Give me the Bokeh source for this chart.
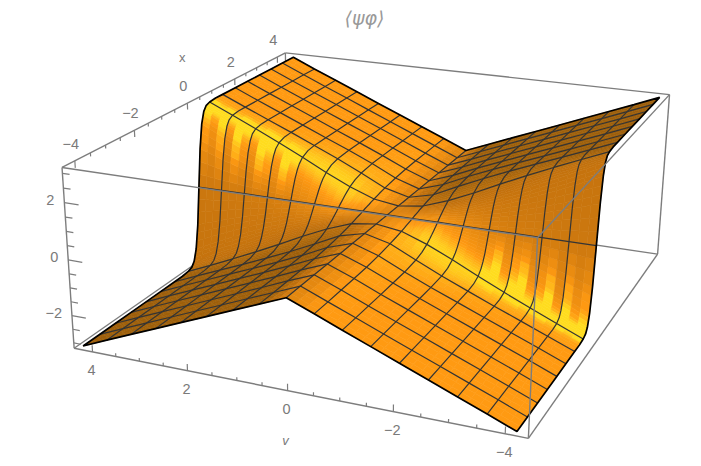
import numpy as np
from bokeh.plotting import figure
from bokeh.models import ColumnDataSource
from bokeh.core.properties import value
from bokeh.embed import file_html
from bokeh.resources import INLINE

# ---- data ----
TITLE = "⟨ψφ⟩"
X_LABEL = "x"
V_LABEL = "v"
x_nodes_pos = [0, .1, .2, .3, .4, .55, .8, 1.1, 1.65, 2.2, 2.75, 3.3, 3.85, 4.4]
x_mesh_pos = [0, .55, 1.1, 1.65, 2.2, 2.75, 3.3, 3.85]
v_nodes_pos = [0, .525, 1.05, 1.575, 2.1, 2.625, 3.15, 3.675, 4.2]
z_r0 = [0]*14
z_r1 = [0, .03, .05, .07, .10, .13, .18, .23, .30, .34, .36, .37, .38, .38]
z_r2 = [0, .10, .19, .28, .36, .47, .60, .68, .74, .75, .76, .76, .76, .76]
z_r3 = [0, .21, .42, .60, .74, .89, 1.04, 1.11, 1.14, 1.14, 1.14, 1.14, 1.14, 1.14]
z_r4 = [0, .38, .73, .99, 1.18, 1.35, 1.47, 1.51, 1.52, 1.52, 1.52, 1.52, 1.52, 1.52]
z_r5 = [0, .60, 1.08, 1.42, 1.64, 1.79, 1.88, 1.90, 1.90, 1.90, 1.90, 1.90, 1.90, 1.90]
z_r6 = [0, .84, 1.48, 1.87, 2.09, 2.21, 2.27, 2.28, 2.28, 2.28, 2.28, 2.28, 2.28, 2.28]
z_r7 = [0, 1.13, 1.90, 2.32, 2.52, 2.62, 2.66, 2.66, 2.66, 2.66, 2.66, 2.66, 2.66, 2.66]
z_r8 = [0, 1.44, 2.35, 2.78, 2.95, 3.02, 3.05, 3.05, 3.05, 3.05, 3.05, 3.05, 3.05, 3.05]
z_rows_pos = [z_r0, z_r1, z_r2, z_r3, z_r4, z_r5, z_r6, z_r7, z_r8]
# bright fingers on the wall, outer |v| strips
wall_fingers = [.08, .20, .04, .15, .24, .05, .12, .26, .05, .24, .10, .20]
BOX_X = 4.4
BOX_Z = 3.2

# ---- style ----
BOX_COLOR = "#7d7d7d"
MESH_COLOR = "#343434"
TEXT_COLOR = "#7a7a7a"
RAMP_T = [0.0, .22, .35, .5, .65, .85, .93, 1.0]
RAMP_C = ["#8a5206", "#a0600a", "#b46c0c", "#c4720e", "#de8410", "#ff9a12", "#ffb81a", "#ffdc1e"]
LIGHT = np.array([-.5, -.55, .65])
# image-pixel anchors of the box corners (camera calibration)
ANCHORS = [((-1, 1, 1), (60, 167)), ((-1, -1, 1), (537, 238)), ((1, -1, 1), (668, 94)), ((1, 1, 1), (287, 52)),
           ((-1, 1, -1), (75, 347)), ((-1, -1, -1), (528, 438)), ((1, -1, -1), (658, 253)), ((1, 1, -1), (285, 200))]

# ---- camera ----
rows = []
for (sx, sv, sz), (u, w) in ANCHORS:
    X = [sx*BOX_X, sv*BOX_X, sz*BOX_Z, 1]
    rows.append(X + [0, 0, 0, 0] + [-u*c for c in X])
    rows.append([0, 0, 0, 0] + X + [-w*c for c in X])
P = np.linalg.svd(np.array(rows, float))[2][-1].reshape(3, 4)
if P[2, 3] < 0:
    P = -P

def project(x, v, z):
    x, v, z = np.asarray(x, float), np.asarray(v, float), np.asarray(z, float)
    h = np.stack([x, v, z, np.ones_like(x)], -1) @ P.T
    return h[..., 0]/h[..., 2], h[..., 1]/h[..., 2], h[..., 2]

xp = np.array(x_nodes_pos, float)
vp = np.array(v_nodes_pos, float)
zp = np.array(z_rows_pos, float)
xs = np.concatenate([-xp[:0:-1], xp])
vs = np.concatenate([-vp[:0:-1], vp])
zq = np.concatenate([-zp[:, :0:-1], zp], axis=1)
Z = np.concatenate([zq[:0:-1], zq], axis=0)

dz_dv, dz_dx = np.gradient(Z, vs, xs)
norm = np.sqrt(1 + dz_dx**2 + dz_dv**2)
T = (-dz_dx*LIGHT[0] - dz_dv*LIGHT[1] + LIGHT[2])/norm

ramp_rgb = np.array([[int(c[i:i+2], 16) for i in (1, 3, 5)] for c in RAMP_C], float)
def shade(t):
    return "#%02x%02x%02x" % tuple(int(round(np.interp(t, RAMP_T, ramp_rgb[:, k]))) for k in range(3))

NSUB = 3
fr = (np.arange(NSUB+1))/NSUB
quads = []
n_half = len(vp)-1
for i in range(len(vs)-1):
    for j in range(len(xs)-1):
        for a in range(NSUB):
            for b in range(NSUB):
                def bil(F, s, r):
                    return ((1-s)*(1-r)*F[i, j] + (1-s)*r*F[i, j+1] + s*(1-r)*F[i+1, j] + s*r*F[i+1, j+1])
                s0, s1, r0, r1 = fr[a], fr[a+1], fr[b], fr[b+1]
                corners = [(s0, r0), (s0, r1), (s1, r1), (s1, r0)]
                xx = [xs[j]+(xs[j+1]-xs[j])*r for s, r in corners]
                vv = [vs[i]+(vs[i+1]-vs[i])*s for s, r in corners]
                zz = [bil(Z, s, r) for s, r in corners]
                u, w, d = project(xx, vv, zz)
                t = bil(T, (s0+s1)/2, (r0+r1)/2)
                xc, vc = np.mean(xx), np.mean(vv)
                row = (i - n_half if vc > 0 else n_half - 1 - i)
                sub = (a if vc > 0 else NSUB - 1 - a)
                idx = (row - 4)*NSUB + sub
                if xc*vc > 0 and 0 <= idx < len(wall_fingers) and abs(xc) < .8:
                    # fingers fade out towards the foot of the wall and onto the plateau
                    t += wall_fingers[idx]*min(1, abs(xc)/.15)*min(1, (.8-abs(xc))/.3)
                quads.append((d.mean(), u.tolist(), w.tolist(), shade(t)))
quads.sort(key=lambda q: -q[0])
quad_src = ColumnDataSource(dict(xs=[q[1] for q in quads], ys=[q[2] for q in quads], c=[q[3] for q in quads]))

# ---- mesh lines ----
mesh_x, mesh_y = [], []
for k, v0 in enumerate(vs):
    if 0 < k < len(vs)-1:
        u, w, _ = project(xs, np.full_like(xs, v0), Z[k])
        mesh_x.append(u.tolist()); mesh_y.append(w.tolist())
for k, x0 in enumerate(xs):
    if abs(x0) in x_mesh_pos:
        u, w, _ = project(np.full_like(vs, x0), vs, Z[:, k])
        mesh_x.append(u.tolist()); mesh_y.append(w.tolist())

# ---- outline of the surface ----
ox = np.concatenate([xs, np.full(len(vs)-1, xs[-1]), xs[::-1][1:], np.full(len(vs)-1, xs[0])])
ov = np.concatenate([np.full(len(xs), vs[-1]), vs[::-1][1:], np.full(len(xs)-1, vs[0]), vs[1:]])
oz = np.concatenate([Z[-1], Z[::-1, -1][1:], Z[0, ::-1][1:], Z[1:, 0]])
out_u, out_w, _ = project(ox, ov, oz)

# ---- box ----
def edge(a, b):
    u, w, _ = project([a[0]*BOX_X, b[0]*BOX_X], [a[1]*BOX_X, b[1]*BOX_X], [a[2]*BOX_Z, b[2]*BOX_Z])
    return u.tolist(), w.tolist()
back_edges = [edge((1, 1, 1), (1, 1, -1)), edge((-1, 1, -1), (1, 1, -1)), edge((1, -1, -1), (1, 1, -1))]
front_edges = [edge((-1, 1, 1), (1, 1, 1)), edge((1, 1, 1), (1, -1, 1)), edge((1, -1, 1), (-1, -1, 1)),
               edge((-1, -1, 1), (-1, 1, 1)), edge((-1, 1, 1), (-1, 1, -1)), edge((-1, -1, 1), (-1, -1, -1)),
               edge((1, -1, 1), (1, -1, -1)), edge((-1, 1, -1), (-1, -1, -1)), edge((-1, -1, -1), (1, -1, -1))]

# ---- ticks and labels ----
tx, ty = [], []
lab_x, lab_y, lab_t = [], [], []
zlab_x, zlab_y, zlab_t = [], [], []
def fmt(val):
    return ("\u2212%d" % -val) if val < 0 else str(val)
def add_tick(p0, p1):
    u, w, _ = project([p0[0], p1[0]], [p0[1], p1[1]], [p0[2], p1[2]])
    tx.append(u.tolist()); ty.append(w.tolist())
    return u[0], w[0]
for n in range(-8, 9):
    t = n/2
    major = n % 4 == 0
    L = .24 if major else .12
    u, w = add_tick((t, BOX_X, BOX_Z), (t, BOX_X, BOX_Z-L))
    if major:
        lab_x.append(u-4); lab_y.append(w-17); lab_t.append(fmt(int(t)))
    u, w = add_tick((-BOX_X, t, -BOX_Z), (-BOX_X, t, -BOX_Z+L))
    if major:
        lab_x.append(u-1); lab_y.append(w+18); lab_t.append(fmt(int(t)))
for n in range(-6, 7):
    t = n/2
    major = n % 4 == 0
    L = .3 if major else .15
    u, w = add_tick((-BOX_X, BOX_X, t), (-BOX_X, BOX_X-L, t))
    if major:
        zlab_x.append(u-10); zlab_y.append(w-3); zlab_t.append(fmt(int(t)))

# ---- figure: the ranges are the picture's own pixel coordinates ----
p = figure(width=701, height=466, x_range=(0, 701), y_range=(466, 0), output_backend="svg",
           toolbar_location=None, x_axis_type=None, y_axis_type=None, min_border=0,
           outline_line_color=None, background_fill_color="white", border_fill_color="white")
p.grid.visible = False

p.multi_line([e[0] for e in back_edges], [e[1] for e in back_edges], line_color=BOX_COLOR, line_width=1.3)
p.patches("xs", "ys", source=quad_src, fill_color="c", line_color="c", line_width=0.6)
p.multi_line(mesh_x, mesh_y, line_color=MESH_COLOR, line_width=1.2)
p.line(out_u.tolist(), out_w.tolist(), line_color="black", line_width=1.7)
p.multi_line([e[0] for e in front_edges], [e[1] for e in front_edges], line_color=BOX_COLOR, line_width=1.4)
p.multi_line(tx, ty, line_color=BOX_COLOR, line_width=1.2)

font = value("Liberation Sans")
p.text(lab_x, lab_y, text=lab_t, text_font=font, text_font_size="14.5px", text_color=TEXT_COLOR,
       text_align="center", text_baseline="middle")
p.text(zlab_x, zlab_y, text=zlab_t, text_font=font, text_font_size="14.5px", text_color=TEXT_COLOR,
       text_align="right", text_baseline="middle")
u, w, _ = project([0, -BOX_X], [BOX_X, 0], [BOX_Z, -BOX_Z])
p.text([u[0]-5], [w[0]-46], text=[X_LABEL], text_font=font, text_font_size="13px", text_color=TEXT_COLOR,
       text_align="center", text_baseline="middle")
p.text([u[1]-2], [w[1]+50], text=[V_LABEL], text_font=font, text_font_size="13px", text_font_style="italic",
       text_color=TEXT_COLOR, text_align="center", text_baseline="middle")
p.text([364], [17], text=[TITLE], text_font=value("DejaVu Sans"), text_font_size="19px",
       text_font_style="italic", text_color="#999999", text_align="center", text_baseline="middle")

open("out.html", "w").write(file_html(p, INLINE))
